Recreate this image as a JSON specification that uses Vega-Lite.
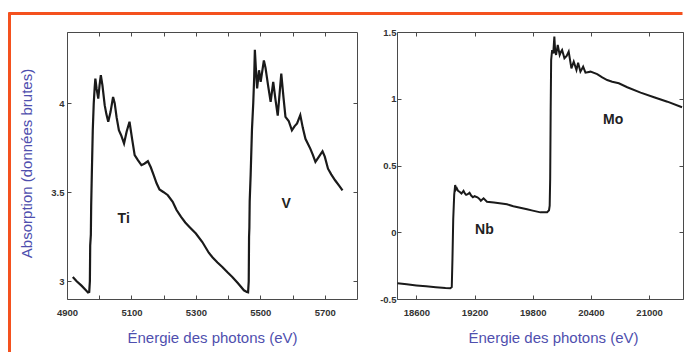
{
  "$schema": "https://vega.github.io/schema/vega-lite/v6.json",
  "autosize": "none",
  "width": 688,
  "height": 352,
  "padding": 0,
  "background": "white",
  "config": {
    "view": {"stroke": null},
    "axis": {
      "grid": false,
      "domainColor": "#4a4a4a",
      "domainWidth": 1,
      "tickColor": "#4a4a4a",
      "tickWidth": 1,
      "labelFont": "Liberation Sans",
      "labelFontWeight": "bold",
      "labelFontSize": 9.5,
      "labelColor": "#333333",
      "labelFlush": false,
      "labelOverlap": false,
      "titleFont": "Liberation Sans",
      "titleFontSize": 15,
      "titleFontWeight": "normal",
      "titleColor": "#4f4fae"
    }
  },
  "datasets": {
    "tiv": [
      {"e": 4918, "a": 3.024}, {"e": 4930, "a": 3.0}, {"e": 4945, "a": 2.975}, {"e": 4958, "a": 2.95},
      {"e": 4965, "a": 2.937}, {"e": 4969, "a": 2.94}, {"e": 4971, "a": 3.0}, {"e": 4972, "a": 3.2},
      {"e": 4974, "a": 3.26}, {"e": 4975, "a": 3.42}, {"e": 4977, "a": 3.6}, {"e": 4980, "a": 3.85},
      {"e": 4983, "a": 4.0}, {"e": 4986, "a": 4.09}, {"e": 4988, "a": 4.138}, {"e": 4992, "a": 4.08},
      {"e": 4997, "a": 4.026}, {"e": 5001, "a": 4.1}, {"e": 5005, "a": 4.157}, {"e": 5010, "a": 4.1},
      {"e": 5017, "a": 3.989}, {"e": 5022, "a": 3.94}, {"e": 5028, "a": 3.896}, {"e": 5035, "a": 3.95},
      {"e": 5043, "a": 4.035}, {"e": 5048, "a": 4.0}, {"e": 5054, "a": 3.92}, {"e": 5061, "a": 3.848},
      {"e": 5068, "a": 3.82}, {"e": 5077, "a": 3.774}, {"e": 5085, "a": 3.84}, {"e": 5094, "a": 3.896},
      {"e": 5102, "a": 3.8}, {"e": 5110, "a": 3.708}, {"e": 5120, "a": 3.68}, {"e": 5131, "a": 3.652},
      {"e": 5140, "a": 3.66}, {"e": 5151, "a": 3.674}, {"e": 5160, "a": 3.64}, {"e": 5169, "a": 3.596},
      {"e": 5178, "a": 3.55}, {"e": 5187, "a": 3.515}, {"e": 5200, "a": 3.5}, {"e": 5213, "a": 3.483},
      {"e": 5228, "a": 3.446}, {"e": 5240, "a": 3.4}, {"e": 5254, "a": 3.361}, {"e": 5267, "a": 3.33},
      {"e": 5280, "a": 3.305}, {"e": 5300, "a": 3.268}, {"e": 5320, "a": 3.22}, {"e": 5340, "a": 3.16},
      {"e": 5352, "a": 3.133}, {"e": 5367, "a": 3.105}, {"e": 5382, "a": 3.08}, {"e": 5398, "a": 3.05},
      {"e": 5413, "a": 3.024}, {"e": 5430, "a": 2.99}, {"e": 5449, "a": 2.949}, {"e": 5458, "a": 2.94},
      {"e": 5462, "a": 2.938}, {"e": 5464, "a": 3.0}, {"e": 5465, "a": 3.25}, {"e": 5466, "a": 3.3},
      {"e": 5467, "a": 3.45}, {"e": 5470, "a": 3.6}, {"e": 5474, "a": 3.85}, {"e": 5478, "a": 4.0},
      {"e": 5481, "a": 4.15}, {"e": 5483, "a": 4.3}, {"e": 5486, "a": 4.2}, {"e": 5490, "a": 4.083},
      {"e": 5496, "a": 4.185}, {"e": 5501, "a": 4.12}, {"e": 5511, "a": 4.24}, {"e": 5516, "a": 4.2},
      {"e": 5524, "a": 4.1}, {"e": 5532, "a": 4.007}, {"e": 5540, "a": 4.12}, {"e": 5547, "a": 4.02},
      {"e": 5554, "a": 3.93}, {"e": 5565, "a": 4.166}, {"e": 5572, "a": 4.03}, {"e": 5578, "a": 3.923},
      {"e": 5588, "a": 3.9}, {"e": 5598, "a": 3.848}, {"e": 5606, "a": 3.87}, {"e": 5614, "a": 3.886},
      {"e": 5624, "a": 3.933}, {"e": 5632, "a": 3.86}, {"e": 5640, "a": 3.8}, {"e": 5655, "a": 3.745},
      {"e": 5663, "a": 3.71}, {"e": 5671, "a": 3.67}, {"e": 5682, "a": 3.7}, {"e": 5693, "a": 3.73},
      {"e": 5700, "a": 3.7}, {"e": 5710, "a": 3.632}, {"e": 5720, "a": 3.6}, {"e": 5732, "a": 3.567},
      {"e": 5745, "a": 3.535}, {"e": 5755, "a": 3.51}
    ],
    "nbmo": [
      {"e": 18405, "a": -0.382}, {"e": 18500, "a": -0.39}, {"e": 18600, "a": -0.398}, {"e": 18700, "a": -0.405},
      {"e": 18800, "a": -0.412}, {"e": 18900, "a": -0.418}, {"e": 18950, "a": -0.42}, {"e": 18965, "a": -0.41},
      {"e": 18972, "a": -0.2}, {"e": 18980, "a": 0.1}, {"e": 18990, "a": 0.28}, {"e": 19000, "a": 0.354},
      {"e": 19008, "a": 0.32}, {"e": 19017, "a": 0.33}, {"e": 19030, "a": 0.31}, {"e": 19051, "a": 0.3},
      {"e": 19065, "a": 0.29}, {"e": 19086, "a": 0.31}, {"e": 19100, "a": 0.29}, {"e": 19113, "a": 0.28},
      {"e": 19130, "a": 0.285}, {"e": 19148, "a": 0.296}, {"e": 19165, "a": 0.275}, {"e": 19183, "a": 0.262},
      {"e": 19200, "a": 0.27}, {"e": 19230, "a": 0.262}, {"e": 19250, "a": 0.25}, {"e": 19265, "a": 0.236},
      {"e": 19293, "a": 0.254}, {"e": 19328, "a": 0.229}, {"e": 19400, "a": 0.222}, {"e": 19534, "a": 0.209},
      {"e": 19600, "a": 0.195}, {"e": 19741, "a": 0.172}, {"e": 19800, "a": 0.162}, {"e": 19879, "a": 0.149},
      {"e": 19948, "a": 0.149}, {"e": 19968, "a": 0.165}, {"e": 19975, "a": 0.2}, {"e": 19980, "a": 0.4},
      {"e": 19985, "a": 0.9}, {"e": 19990, "a": 1.29}, {"e": 20000, "a": 1.365}, {"e": 20012, "a": 1.34},
      {"e": 20023, "a": 1.465}, {"e": 20032, "a": 1.35}, {"e": 20041, "a": 1.328}, {"e": 20058, "a": 1.403},
      {"e": 20078, "a": 1.328}, {"e": 20090, "a": 1.35}, {"e": 20103, "a": 1.365}, {"e": 20127, "a": 1.303},
      {"e": 20150, "a": 1.32}, {"e": 20171, "a": 1.353}, {"e": 20199, "a": 1.228}, {"e": 20223, "a": 1.278},
      {"e": 20251, "a": 1.215}, {"e": 20268, "a": 1.27}, {"e": 20292, "a": 1.203}, {"e": 20320, "a": 1.24},
      {"e": 20344, "a": 1.195}, {"e": 20396, "a": 1.203}, {"e": 20465, "a": 1.185}, {"e": 20517, "a": 1.16},
      {"e": 20568, "a": 1.14}, {"e": 20620, "a": 1.128}, {"e": 20688, "a": 1.116}, {"e": 20775, "a": 1.086},
      {"e": 20913, "a": 1.046}, {"e": 21051, "a": 1.011}, {"e": 21189, "a": 0.978}, {"e": 21340, "a": 0.936}
    ],
    "labA": [
      {"e": 5076, "a": 3.349, "t": "Ti"},
      {"e": 5580, "a": 3.431, "t": "V"}
    ],
    "labB": [
      {"e": 19302, "a": 0.017, "t": "Nb"},
      {"e": 20630, "a": 0.838, "t": "Mo"}
    ]
  },
  "resolve": {"scale": {"x": "independent", "y": "independent"}},
  "layer": [
    {
      "data": {"name": "labA"},
      "mark": {"type": "point", "opacity": 0, "clip": true},
      "encoding": {
        "x": {
          "field": "e", "type": "quantitative",
          "scale": {"domain": [0, 1], "range": [8, 682], "nice": false, "zero": false},
          "axis": {"orient": "top", "offset": -13, "ticks": false, "labels": false, "title": null, "domainColor": "#f4511e", "domainWidth": 3}
        },
        "y": {
          "field": "a", "type": "quantitative",
          "scale": {"domain": [0, 1], "range": [352, 12], "nice": false, "zero": false},
          "axis": {"orient": "left", "offset": -9, "ticks": false, "labels": false, "title": null, "domainColor": "#f4511e", "domainWidth": 3}
        }
      }
    },
    {
      "layer": [
        {
          "data": {"name": "tiv"},
          "mark": {"type": "line", "color": "#1a1a1a", "strokeWidth": 2.2},
          "encoding": {
            "x": {
              "field": "e", "type": "quantitative",
              "scale": {"domain": [4900, 5800], "range": [67, 357], "nice": false, "zero": false},
              "axis": {
                "orient": "bottom", "offset": -53, "format": "d",
                "values": [4900, 5000, 5100, 5200, 5300, 5400, 5500, 5600, 5700],
                "labelExpr": "datum.value % 200 == 100 ? datum.label : ''",
                "tickSize": -4, "labelPadding": 12,
                "title": "Énergie des photons (eV)", "titleX": 212, "titleY": 43,
                "titleBaseline": "alphabetic"
              }
            },
            "y": {
              "field": "a", "type": "quantitative",
              "scale": {"domain": [2.9, 4.4], "range": [299, 32], "nice": false, "zero": false},
              "axis": {
                "orient": "left", "offset": -67, "values": [3, 3.5, 4],
                "labelExpr": "'' + datum.value",
                "tickSize": -4, "labelPadding": 7,
                "title": "Absorption (données brutes)", "titleX": -36, "titleY": 163,
                "titleAngle": -90, "titleBaseline": "alphabetic"
              }
            }
          }
        },
        {
          "data": {"name": "labA"},
          "mark": {"type": "text", "font": "Liberation Sans", "fontWeight": "bold", "fontSize": 14, "color": "#222222", "align": "center", "baseline": "middle"},
          "encoding": {
            "x": {
              "field": "e", "type": "quantitative",
              "axis": {
                "orient": "top", "offset": -32, "labels": false, "title": null,
                "values": [4900, 5000, 5100, 5200, 5300, 5400, 5500, 5600, 5700],
                "tickSize": -4
              }
            },
            "y": {
              "field": "a", "type": "quantitative",
              "axis": {
                "orient": "right", "offset": -331, "labels": false, "title": null,
                "values": [3, 3.5, 4], "tickSize": -4
              }
            },
            "text": {"field": "t"}
          }
        }
      ]
    },
    {
      "layer": [
        {
          "data": {"name": "nbmo"},
          "mark": {"type": "line", "color": "#1a1a1a", "strokeWidth": 2},
          "encoding": {
            "x": {
              "field": "e", "type": "quantitative",
              "scale": {"domain": [18400, 21350], "range": [397, 683], "nice": false, "zero": false},
              "axis": {
                "orient": "bottom", "offset": -53, "format": "d",
                "values": [18600, 19200, 19800, 20400, 21000],
                "tickSize": -4, "labelPadding": 12,
                "title": "Énergie des photons (eV)", "titleX": 553, "titleY": 43,
                "titleBaseline": "alphabetic"
              }
            },
            "y": {
              "field": "a", "type": "quantitative",
              "scale": {"domain": [-0.5, 1.5], "range": [299, 32], "nice": false, "zero": false},
              "axis": {
                "orient": "left", "offset": -397, "values": [-0.5, 0, 0.5, 1, 1.5],
                "labelExpr": "'' + datum.value",
                "tickSize": -4, "labelPadding": 5, "title": null
              }
            }
          }
        },
        {
          "data": {"name": "labB"},
          "mark": {"type": "text", "font": "Liberation Sans", "fontWeight": "bold", "fontSize": 14, "color": "#222222", "align": "center", "baseline": "middle"},
          "encoding": {
            "x": {
              "field": "e", "type": "quantitative",
              "axis": {
                "orient": "top", "offset": -32, "labels": false, "title": null,
                "values": [18600, 19200, 19800, 20400, 21000], "tickSize": -4
              }
            },
            "y": {
              "field": "a", "type": "quantitative",
              "axis": {
                "orient": "right", "offset": -5, "labels": false, "title": null,
                "values": [-0.5, 0, 0.5, 1, 1.5], "tickSize": -4
              }
            },
            "text": {"field": "t"}
          }
        }
      ]
    }
  ]
}
